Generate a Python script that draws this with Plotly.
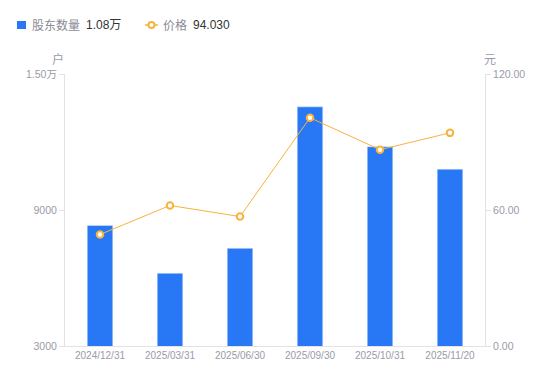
import plotly.graph_objects as go

categories = ["2024/12/31", "2025/03/31", "2025/06/30", "2025/09/30", "2025/10/31", "2025/11/20"]
holders = [8320, 6210, 7310, 13550, 11790, 10800]
prices = [49.2, 62.0, 57.1, 100.7, 86.6, 94.03]

left_tickvals = [3000, 9000, 15000]
left_ticktext = ["3000", "9000", "1.50万"]
right_tickvals = [0, 60, 120]
right_ticktext = ["0.00", "60.00", "120.00"]

legend_names = ["股东数量", "价格"]
legend_values = ["1.08万", "94.030"]

FONT = "Liberation Sans, Arial, Noto Sans CJK SC, sans-serif"
GRAY = "#9a9aa8"
AXIS = "#e3e3e6"
BLUE = "#2878f5"
ORANGE = "#f8b33c"

# page body has an 8px margin; figure is sized/offset to compensate
W, H = 542, 373
L, R, T, B = 57, 65, 66, 35

fig = go.Figure()
fig.add_trace(go.Bar(
    x=categories, y=holders, name=legend_names[0],
    marker=dict(color=BLUE), width=0.365, yaxis="y",
))
fig.add_trace(go.Scatter(
    x=categories, y=prices, name=legend_names[1],
    mode="lines+markers", yaxis="y2",
    line=dict(color=ORANGE, width=1),
    marker=dict(symbol="circle", size=6.5, color="white", line=dict(color=ORANGE, width=2)),
))

def px_shape(kind, x0, x1, y0, y1, **kw):
    # x offsets relative to plot left, y offsets relative to plot top (upward positive)
    return dict(type=kind, xref="paper", yref="paper", xsizemode="pixel", ysizemode="pixel",
                xanchor=0, yanchor=1, x0=x0, x1=x1, y0=y0, y1=y1, **kw)

shapes = [
    px_shape("rect", -48, -39, 53, 45, fillcolor=BLUE, line=dict(width=0)),
    px_shape("line", 80, 93, 49, 49, line=dict(color=ORANGE, width=1.5)),
    px_shape("circle", 83.5, 89.5, 52, 46, fillcolor="white", line=dict(color=ORANGE, width=2)),
]

def ann(text, xshift, color, size=12):
    return dict(text=text, xref="paper", yref="paper", x=0, y=1, xshift=xshift, yshift=49,
                xanchor="left", yanchor="middle", showarrow=False,
                font=dict(size=size, color=color, family=FONT))

annotations = [
    ann(legend_names[0], -35, "#8a8a96"),
    ann(legend_values[0], 19, "#333333"),
    ann(legend_names[1], 96, "#8a8a96"),
    ann(legend_values[1], 126, "#333333"),
    dict(text="户", xref="paper", yref="paper", x=0, y=1, xshift=-7, yshift=16,
         showarrow=False, font=dict(size=12, color=GRAY, family="Noto Sans CJK SC"),
         xanchor="center", yanchor="middle"),
    dict(text="元", xref="paper", yref="paper", x=1, y=1, xshift=5, yshift=16,
         showarrow=False, font=dict(size=12, color=GRAY, family="Noto Sans CJK SC"),
         xanchor="center", yanchor="middle"),
]

fig.update_layout(
    width=W, height=H,
    margin=dict(l=L, r=R, t=T, b=B, autoexpand=False),
    paper_bgcolor="white", plot_bgcolor="white",
    font=dict(family=FONT, size=11, color=GRAY),
    showlegend=False,
    xaxis=dict(
        type="category", showgrid=False, showline=True, linecolor=AXIS, linewidth=1,
        ticks="", tickfont=dict(size=10, color=GRAY), zeroline=False, automargin=False,
    ),
    yaxis=dict(
        range=[3000, 15000], tickvals=left_tickvals, ticktext=left_ticktext,
        showgrid=False, showline=True, linecolor=AXIS, linewidth=1,
        ticks="outside", ticklen=5, tickcolor=AXIS, zeroline=False, automargin=False,
        tickfont=dict(size=10.5, color=GRAY),
    ),
    yaxis2=dict(
        range=[0, 120], tickvals=right_tickvals, ticktext=right_ticktext,
        overlaying="y", side="right",
        showgrid=False, showline=True, linecolor=AXIS, linewidth=1,
        ticks="outside", ticklen=5, tickcolor=AXIS, zeroline=False, automargin=False,
        tickfont=dict(size=10.5, color=GRAY),
    ),
    shapes=shapes,
    annotations=annotations,
)

fig.write_html("out.html")
